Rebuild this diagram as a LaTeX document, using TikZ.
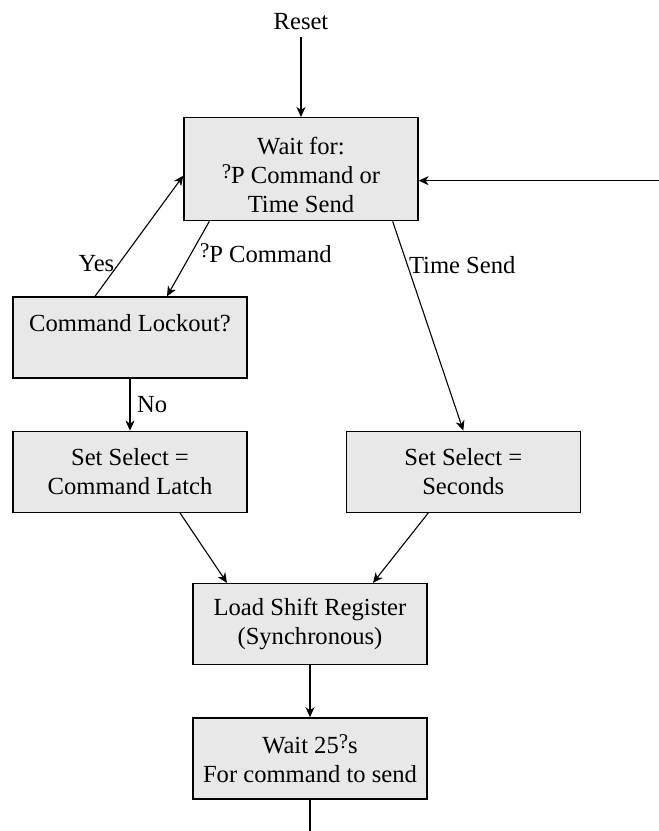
\documentclass[tikz,border=0pt]{standalone}
\usepackage{fontspec}
\setmainfont{Liberation Serif}
\usepackage{xcolor}
\usepackage{tikz}
\usetikzlibrary{arrows.meta, positioning, calc}
\definecolor{boxgray}{HTML}{E8E8E8}
\newcommand{\qmark}{\raisebox{2.5pt}{\fontsize{10.5}{11}\selectfont ?}}

\begin{document}
\begin{tikzpicture}[
    stepbox/.style={rectangle, draw, line width=0.65pt, fill=boxgray, minimum width=117pt, minimum height=40.5pt, align=center, font=\fontsize{12.3}{14.5}\selectfont},
    lbl/.style={font=\fontsize{12.3}{14.5}\selectfont},
    >={Stealth[length=5pt, width=4.5pt, inset=1.5pt]},
    line width=0.55pt
]
\node[stepbox, minimum height=51.5pt, text height=44pt, text depth=0.5pt] (wait) {Wait for:\\\qmark P Command or\\Time Send};
\node[lbl, above=40pt of wait] (reset) {Reset};
\node[stepbox, below=37.5pt of wait, xshift=-85.5pt] (lockout) {Command Lockout?\\~};
\node[stepbox, below=26pt of lockout] (latch) {Set Select =\\Command Latch};
\node[stepbox, right=49pt of latch] (seconds) {Set Select =\\Seconds};
\node[stepbox, below=35pt of latch, xshift=90pt] (load) {Load Shift Register\\(Synchronous)};
\node[stepbox, below=26pt of load] (wait25) {Wait 25\qmark s\\For command to send};
\coordinate[right=120.5pt of wait.east, yshift=-5.75pt] (loopin);
\coordinate[below=16pt of wait25.south] (out);

\useasboundingbox ($(wait.north)+(-150.5pt,58.5pt)$) rectangle ($(wait.north)+(179pt,-357pt)$);

\draw[->] (reset) -- (wait);
\draw[->] (loopin) -- (loopin -| wait.east);
\draw[->] ([xshift=13pt]wait.south west) -- node[lbl, pos=0.42, right, inner sep=4pt] {\qmark P Command} ([xshift=18.5pt]lockout.north);
\draw[->] ([xshift=-17.5pt]lockout.north) -- node[lbl, pos=0.27, left, inner sep=2pt] {Yes} ([yshift=-3.25pt]wait.west);
\draw[->] ([xshift=-13pt]wait.south east) -- node[lbl, pos=0.21, right, inner sep=0.5pt] {Time Send} (seconds.north);
\draw[->] (lockout) -- node[lbl, right] {No} (latch);
\draw[->] ([xshift=25pt]latch.south) -- ([xshift=-41.5pt]load.north);
\draw[->] ([xshift=-17.5pt]seconds.south) -- ([xshift=31.5pt]load.north);
\draw[->] (load) -- (wait25);
\draw (wait25) -- (out);
\end{tikzpicture}
\end{document}
